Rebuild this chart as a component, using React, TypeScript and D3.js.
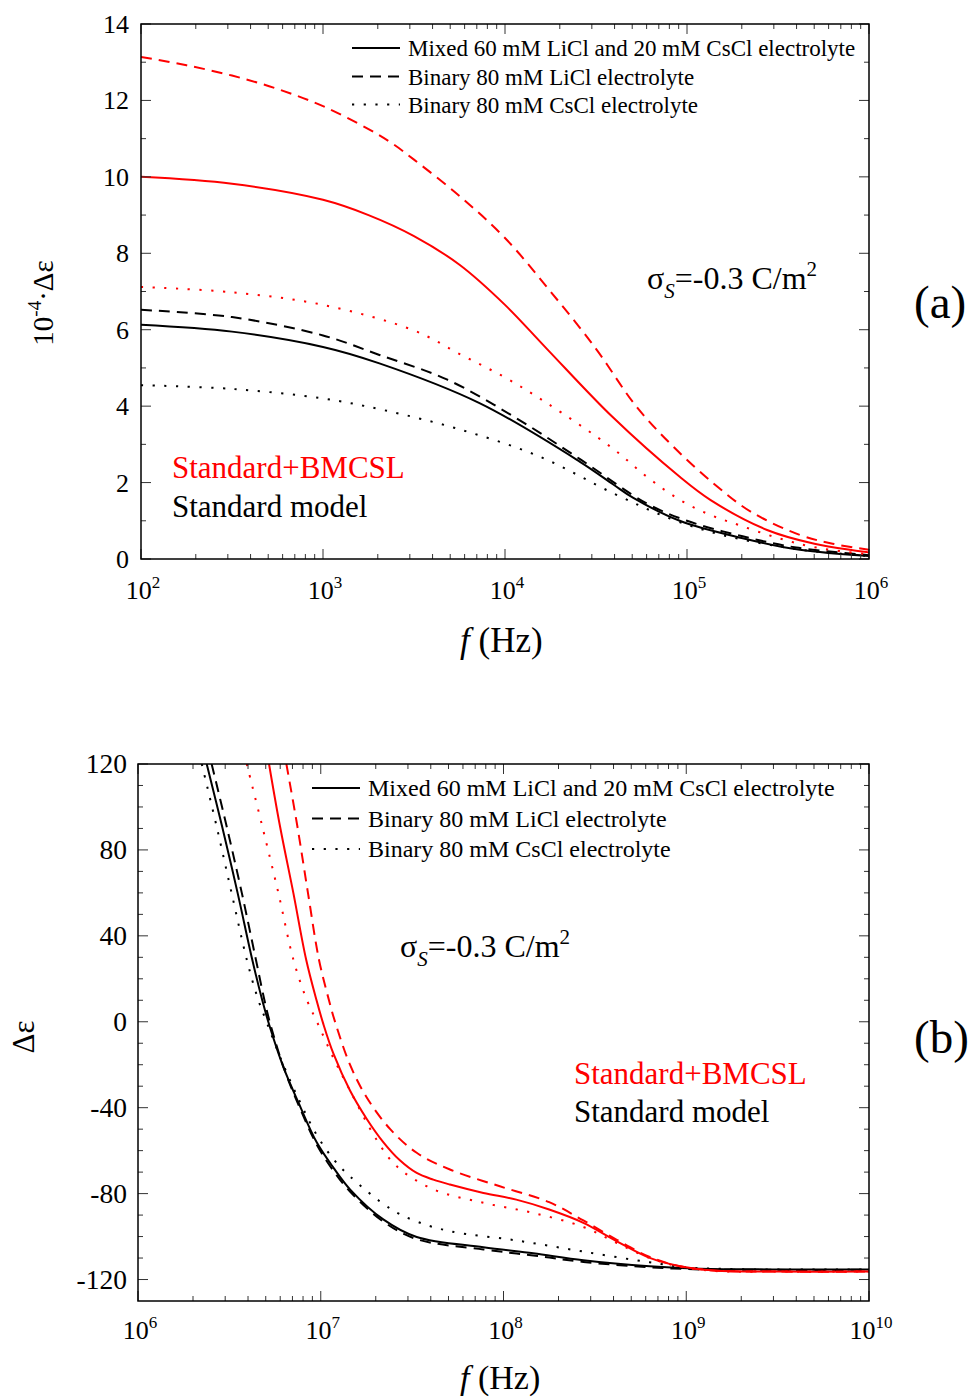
import React from "react";
import * as d3 from "d3";

// ---------- Panel (a) data: log10(f/Hz) and 10^-4·Δε ----------
const A_MIX_STD_LOGF = [2.0, 2.5, 3.0, 3.31, 3.86, 4.41, 4.595, 4.705, 4.96, 5.3, 5.62, 6.0];
const A_MIX_STD_VAL = [6.13, 5.95, 5.55, 5.12, 4.08, 2.55, 1.95, 1.6, 1.0, 0.55, 0.24, 0.08];
const A_LI_STD_LOGF = [2.0, 2.5, 3.0, 3.31, 3.68, 4.05, 4.41, 4.78, 5.0, 5.3, 5.6, 6.0];
const A_LI_STD_VAL = [6.52, 6.33, 5.85, 5.34, 4.7, 3.72, 2.62, 1.45, 1.0, 0.6, 0.3, 0.1];
const A_CS_STD_LOGF = [2.0, 2.5, 3.0, 3.33, 3.76, 4.19, 4.595, 4.907, 5.2, 5.6, 6.0];
const A_CS_STD_VAL = [4.55, 4.45, 4.2, 3.9, 3.38, 2.68, 1.72, 1.06, 0.62, 0.26, 0.08];
const A_MIX_BM_LOGF = [2.0, 2.5, 3.0, 3.25, 3.5, 3.75, 4.0, 4.23, 4.59, 4.96, 5.13, 5.44, 5.7, 6.0];
const A_MIX_BM_VAL = [10.0, 9.82, 9.4, 9.0, 8.45, 7.7, 6.65, 5.5, 3.72, 2.15, 1.54, 0.76, 0.4, 0.17];
const A_LI_BM_LOGF = [2.0, 2.25, 2.5, 2.75, 3.0, 3.25, 3.385, 3.5, 3.75, 4.0, 4.25, 4.5, 4.72, 4.925, 5.145, 5.35, 5.62, 5.8, 6.0];
const A_LI_BM_VAL = [13.14, 12.92, 12.65, 12.3, 11.85, 11.25, 10.86, 10.45, 9.5, 8.4, 7.0, 5.5, 4.0, 2.94, 1.98, 1.24, 0.63, 0.4, 0.24];
const A_CS_BM_LOGF = [2.0, 2.5, 3.0, 3.5, 3.76, 4.0, 4.23, 4.59, 4.78, 4.96, 5.13, 5.29, 5.5, 5.71, 6.0];
const A_CS_BM_VAL = [7.12, 6.98, 6.65, 5.98, 5.34, 4.75, 4.08, 2.9, 2.15, 1.55, 1.15, 0.88, 0.55, 0.3, 0.12];

// ---------- Panel (b) data: log10(f/Hz) and Δε ----------
const B_MIX_STD_LOGF = [6.376, 6.46, 6.545, 6.625, 6.68, 6.72, 6.795, 6.88, 6.977, 7.07, 7.16, 7.342, 7.525, 7.89, 8.163, 8.437, 8.8, 9.075, 9.5, 10];
const B_MIX_STD_VAL = [120, 91, 60, 29, 10, -2, -21, -38, -56, -68, -78, -92, -100.2, -105, -107.8, -111, -113.8, -115, -115.3, -115.3];
const B_LI_STD_LOGF = [6.403, 6.485, 6.568, 6.645, 6.692, 6.727, 6.8, 6.885, 6.98, 7.07, 7.16, 7.342, 7.525, 7.89, 8.163, 8.437, 8.8, 9.075, 9.5, 10];
const B_LI_STD_VAL = [120, 91, 60, 29, 10, -2, -22, -40, -57.5, -69.5, -79, -93, -101.2, -106, -108.8, -111.8, -114.3, -115.3, -115.5, -115.5];
const B_CS_STD_LOGF = [6.349, 6.43, 6.512, 6.595, 6.655, 6.713, 6.8, 6.89, 6.98, 7.07, 7.16, 7.38, 7.525, 7.707, 8.07, 8.437, 8.8, 9.0, 9.3, 10];
const B_CS_STD_VAL = [120, 91, 60, 29, 11, -2.2, -21, -38, -53, -64, -72, -87, -93, -97.5, -101.8, -107, -112, -114.3, -115.2, -115.3];
const B_MIX_BM_LOGF = [6.717, 6.777, 6.85, 6.92, 6.977, 7.014, 7.07, 7.16, 7.25, 7.342, 7.433, 7.525, 7.616, 7.707, 7.89, 8.07, 8.25, 8.437, 8.62, 8.8, 8.966, 9.15, 9.5, 10];
const B_MIX_BM_VAL = [120, 91, 60, 29, 10, -1, -15, -32, -45, -56, -64.5, -70.4, -73.5, -75.8, -79.7, -82.8, -87.4, -93.6, -102.2, -109.9, -113.8, -115.8, -116.3, -116.3];
const B_LI_BM_LOGF = [6.812, 6.872, 6.93, 6.99, 7.045, 7.08, 7.16, 7.25, 7.38, 7.525, 7.707, 7.98, 8.25, 8.437, 8.62, 8.8, 8.966, 9.15, 9.5, 10];
const B_LI_BM_VAL = [120, 91, 60, 29, 10, -0.5, -20, -35, -50, -61, -68.8, -76.6, -84, -92.5, -101.5, -109.5, -113.8, -115.8, -116.3, -116.3];
const B_CS_BM_LOGF = [6.595, 6.68, 6.768, 6.85, 6.92, 6.99, 7.07, 7.16, 7.306, 7.416, 7.616, 7.89, 8.163, 8.437, 8.62, 8.8, 8.966, 9.15, 9.5, 10];
const B_CS_BM_VAL = [120, 91, 60, 29, 11, -2, -17, -32, -55, -67.3, -78, -84.3, -89, -95.5, -103, -110, -114, -116, -116.3, -116.3];

// ---------- ticks & labels ----------
const A_X_EXPS = [2, 3, 4, 5, 6];
const A_Y_TICKS = [0, 2, 4, 6, 8, 10, 12, 14];
const B_X_EXPS = [6, 7, 8, 9, 10];
const B_Y_TICKS = [-120, -80, -40, 0, 40, 80, 120];
const LEGEND_LABELS = [
  "Mixed 60 mM LiCl and 20 mM CsCl electrolyte",
  "Binary 80 mM LiCl electrolyte",
  "Binary 80 mM CsCl electrolyte",
];

const FONT = "'Liberation Serif','Times New Roman',Times,serif";
const RED = "#ff0000";
const DASH = "11,7";
const DOT = "2.2,9.5";
const STYLES = [null, DASH, DOT];

type Series = { logf: number[]; val: number[]; color: string; dash: string | null };

const A_SERIES: Series[] = [
  { logf: A_MIX_STD_LOGF, val: A_MIX_STD_VAL, color: "#000", dash: null },
  { logf: A_LI_STD_LOGF, val: A_LI_STD_VAL, color: "#000", dash: DASH },
  { logf: A_CS_STD_LOGF, val: A_CS_STD_VAL, color: "#000", dash: DOT },
  { logf: A_MIX_BM_LOGF, val: A_MIX_BM_VAL, color: RED, dash: null },
  { logf: A_LI_BM_LOGF, val: A_LI_BM_VAL, color: RED, dash: DASH },
  { logf: A_CS_BM_LOGF, val: A_CS_BM_VAL, color: RED, dash: DOT },
];
const B_SERIES: Series[] = [
  { logf: B_MIX_STD_LOGF, val: B_MIX_STD_VAL, color: "#000", dash: null },
  { logf: B_LI_STD_LOGF, val: B_LI_STD_VAL, color: "#000", dash: DASH },
  { logf: B_CS_STD_LOGF, val: B_CS_STD_VAL, color: "#000", dash: DOT },
  { logf: B_MIX_BM_LOGF, val: B_MIX_BM_VAL, color: RED, dash: null },
  { logf: B_LI_BM_LOGF, val: B_LI_BM_VAL, color: RED, dash: DASH },
  { logf: B_CS_BM_LOGF, val: B_CS_BM_VAL, color: RED, dash: DOT },
];

type PanelProps = {
  id: string;
  left: number; right: number; top: number; bottom: number;
  exps: number[];
  yDomain: [number, number];
  yTicks: number[];
  yMinorStep: number;
  series: Series[];
  xLabelY: number;
  yLabelX: number;
  yFont: number;
};

function Panel(p: PanelProps) {
  const e0 = p.exps[0];
  const e1 = p.exps[p.exps.length - 1];
  const xs = d3.scaleLog().domain([10 ** e0, 10 ** e1]).range([p.left, p.right]);
  const ys = d3.scaleLinear().domain(p.yDomain).range([p.bottom, p.top]);
  const line = d3
    .line<[number, number]>()
    .x((d) => xs(10 ** d[0]))
    .y((d) => ys(d[1]))
    .curve(d3.curveCatmullRom.alpha(0.5));

  const minorX: number[] = [];
  for (let e = e0; e < e1; e++) for (let k = 2; k <= 9; k++) minorX.push(k * 10 ** e);
  const minorY = d3
    .range(p.yDomain[0], p.yDomain[1] + 1e-9, p.yMinorStep)
    .filter((v) => !p.yTicks.includes(v) && v > p.yDomain[0] && v < p.yDomain[1]);

  const MAJ = 10, MIN = 5;
  const tickStroke = "#333";
  const ticks: JSX.Element[] = [];
  p.exps.forEach((e, i) => {
    const x = xs(10 ** e);
    ticks.push(<line key={"xb" + i} x1={x} x2={x} y1={p.bottom} y2={p.bottom - MAJ} />);
    ticks.push(<line key={"xt" + i} x1={x} x2={x} y1={p.top} y2={p.top + MAJ} />);
  });
  minorX.forEach((v, i) => {
    const x = xs(v);
    ticks.push(<line key={"mxb" + i} x1={x} x2={x} y1={p.bottom} y2={p.bottom - MIN} />);
    ticks.push(<line key={"mxt" + i} x1={x} x2={x} y1={p.top} y2={p.top + MIN} />);
  });
  p.yTicks.forEach((v, i) => {
    const y = ys(v);
    ticks.push(<line key={"yl" + i} x1={p.left} x2={p.left + MAJ} y1={y} y2={y} />);
    ticks.push(<line key={"yr" + i} x1={p.right} x2={p.right - MAJ} y1={y} y2={y} />);
  });
  minorY.forEach((v, i) => {
    const y = ys(v);
    ticks.push(<line key={"myl" + i} x1={p.left} x2={p.left + MIN} y1={y} y2={y} />);
    ticks.push(<line key={"myr" + i} x1={p.right} x2={p.right - MIN} y1={y} y2={y} />);
  });

  return (
    <g>
      <defs>
        <clipPath id={p.id}>
          <rect x={p.left} y={p.top} width={p.right - p.left} height={p.bottom - p.top} />
        </clipPath>
      </defs>
      <g clipPath={`url(#${p.id})`}>
        {p.series.map((s, i) => (
          <path
            key={i}
            d={line(s.logf.map((lf, j) => [lf, s.val[j]] as [number, number])) || ""}
            fill="none"
            stroke={s.color}
            strokeWidth={2}
            strokeDasharray={s.dash || undefined}
          />
        ))}
      </g>
      <g stroke={tickStroke} strokeWidth={1}>{ticks}</g>
      <rect
        x={p.left}
        y={p.top}
        width={p.right - p.left}
        height={p.bottom - p.top}
        fill="none"
        stroke="#000"
        strokeWidth={1.5}
      />
      {p.exps.map((e, i) => (
        <text key={"xl" + i} x={xs(10 ** e) + 2} y={p.xLabelY} textAnchor="middle" fontSize={26}>
          10
          <tspan dy={-11} fontSize={17}>
            {e}
          </tspan>
        </text>
      ))}
      {p.yTicks.map((v, i) => (
        <text key={"yl" + i} x={p.yLabelX} y={ys(v) + 9} textAnchor="end" fontSize={p.yFont}>
          {v}
        </text>
      ))}
    </g>
  );
}

function Legend({ x, rows, fontSize }: { x: number; rows: number[]; fontSize: number }) {
  return (
    <g>
      {LEGEND_LABELS.map((lab, i) => (
        <g key={i}>
          <line
            x1={x}
            x2={x + 48}
            y1={rows[i]}
            y2={rows[i]}
            stroke="#000"
            strokeWidth={2}
            strokeDasharray={STYLES[i] || undefined}
          />
          <text x={x + 56} y={rows[i] + 8} fontSize={fontSize}>
            {lab}
          </text>
        </g>
      ))}
    </g>
  );
}

function Sigma({ x, y }: { x: number; y: number }) {
  return (
    <text x={x} y={y} fontSize={32}>
      σ
      <tspan fontStyle="italic" fontSize={21} dy={9}>
        S
      </tspan>
      <tspan dy={-9}>=-0.3 C/m</tspan>
      <tspan fontSize={21} dy={-13}>
        2
      </tspan>
    </text>
  );
}

export default function App() {
  return (
    <svg
      width={970}
      height={1400}
      style={{ position: "absolute", left: 0, top: 0, background: "#fff" }}
      fontFamily={FONT}
    >
      <rect x={0} y={0} width={970} height={1400} fill="#fff" />
      {/* Panel (a) */}
      <Panel
        id="clipA"
        left={141}
        right={869}
        top={24}
        bottom={559}
        exps={A_X_EXPS}
        yDomain={[0, 14]}
        yTicks={A_Y_TICKS}
        yMinorStep={1}
        series={A_SERIES}
        xLabelY={599}
        yLabelX={129}
        yFont={26}
      />
      <Legend x={352} rows={[48, 76.5, 104.5]} fontSize={23} />
      <Sigma x={647} y={289} />
      <text x={914} y={318} fontSize={47}>(a)</text>
      <text x={172} y={478} fontSize={31} fill={RED}>Standard+BMCSL</text>
      <text x={172} y={517} fontSize={31}>Standard model</text>
      <text transform="translate(53,303) rotate(-90)" textAnchor="middle" fontSize={29}>
        10
        <tspan dy={-12} fontSize={19}>-4</tspan>
        <tspan dy={12}>·Δε</tspan>
      </text>
      <text x={460} y={652} fontSize={35}>
        <tspan fontStyle="italic">f</tspan>
        <tspan> (Hz)</tspan>
      </text>

      {/* Panel (b) */}
      <Panel
        id="clipB"
        left={138}
        right={869}
        top={764}
        bottom={1301}
        exps={B_X_EXPS}
        yDomain={[-130, 120]}
        yTicks={B_Y_TICKS}
        yMinorStep={10}
        series={B_SERIES}
        xLabelY={1339}
        yLabelX={127}
        yFont={27.5}
      />
      <Legend x={312} rows={[788, 818.5, 849]} fontSize={24} />
      <Sigma x={400} y={957} />
      <text x={914} y={1053} fontSize={47}>(b)</text>
      <text x={574} y={1084} fontSize={31} fill={RED}>Standard+BMCSL</text>
      <text x={574} y={1122} fontSize={31}>Standard model</text>
      <text transform="translate(34,1037) rotate(-90)" textAnchor="middle" fontSize={31}>
        Δε
      </text>
      <text x={460} y={1389} fontSize={34}>
        <tspan fontStyle="italic">f</tspan>
        <tspan> (Hz)</tspan>
      </text>
    </svg>
  );
}
